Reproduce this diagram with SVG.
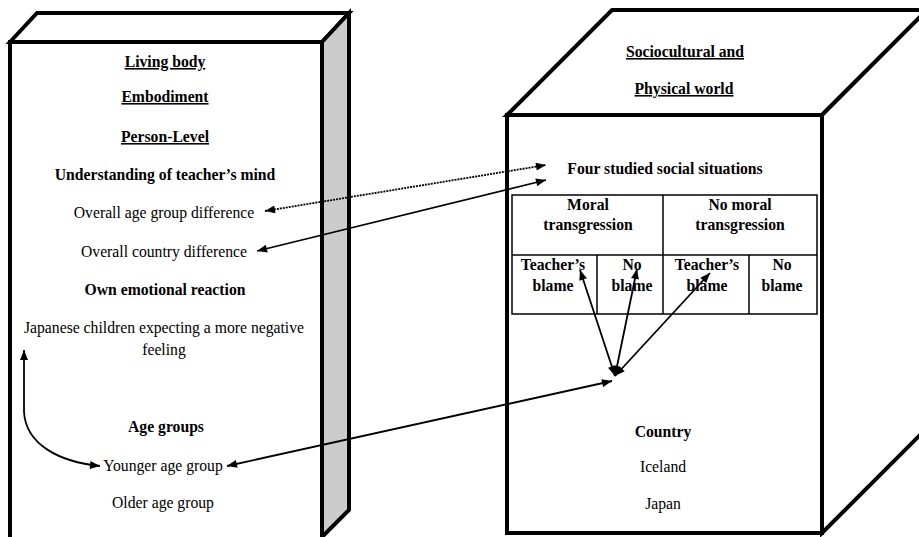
<svg xmlns="http://www.w3.org/2000/svg" width="919" height="537" viewBox="0 0 919 537">
<style>
text{font-family:"Liberation Serif","Times New Roman",serif;font-size:15.7px;fill:#000;text-anchor:middle}
.b{font-weight:bold}
.u{font-weight:bold;text-decoration:underline}
.box{stroke:#000;stroke-width:4;stroke-linejoin:miter}
.tbl{fill:none;stroke:#000;stroke-width:1.5}
.c{fill:none;stroke:#000;stroke-width:1.8;marker-start:url(#ah);marker-end:url(#ah)}
.dot{stroke-dasharray:2,1}
</style>
<defs>
<marker id="ah" viewBox="0 0 10 8" refX="10" refY="4" markerWidth="11" markerHeight="8" markerUnits="userSpaceOnUse" orient="auto-start-reverse">
<path d="M0,0 L10,4 L0,8 z" fill="#000"/>
</marker>
</defs>
<rect width="919" height="537" fill="#fff"/>
<g id="living-body">
<rect class="box" x="10" y="42" width="312" height="510" fill="#fff"/>
<polygon class="box" points="10,42 37,13 349,13 322,42" fill="#fff"/>
<polygon class="box" points="322,42 349,13 349,510 322,537" fill="#cccccc"/>
<text class="u" x="165" y="67">Living body</text>
<text class="u" x="165" y="102">Embodiment</text>
<text class="u" x="165" y="142">Person-Level</text>
<text class="b" x="165" y="180">Understanding of teacher’s mind</text>
<text x="164" y="218">Overall age group difference</text>
<text x="164" y="257">Overall country difference</text>
<text class="b" x="165" y="295">Own emotional reaction</text>
<text x="164" y="333">Japanese children expecting a more negative</text>
<text x="164" y="355">feeling</text>
<text class="b" x="166" y="432">Age groups</text>
<text x="163" y="471">Younger age group</text>
<text x="163" y="508">Older age group</text>
</g>
<g id="sociocultural-world">
<rect class="box" x="507" y="115" width="315" height="418" fill="#fff"/>
<polygon class="box" points="507,115 612,10 927,10 822,115" fill="#fff"/>
<polygon class="box" points="822,115 927,10 927,428 822,533" fill="#fff"/>
<text class="u" x="685" y="57">Sociocultural and</text>
<text class="u" x="684" y="94">Physical world</text>
<text class="b" x="665" y="174">Four studied social situations</text>
<text class="b" x="663" y="437">Country</text>
<text x="663" y="472">Iceland</text>
<text x="663" y="509">Japan</text>
</g>
<g id="situations-table">
<rect class="tbl" x="512" y="195" width="305" height="119"/>
<line class="tbl" x1="663" y1="195" x2="663" y2="314"/>
<line class="tbl" x1="512" y1="255" x2="817" y2="255"/>
<line class="tbl" x1="597" y1="255" x2="597" y2="314"/>
<line class="tbl" x1="749" y1="255" x2="749" y2="314"/>
<text class="b" x="588" y="210">Moral</text>
<text class="b" x="588" y="230">transgression</text>
<text class="b" x="740" y="210">No moral</text>
<text class="b" x="740" y="230">transgression</text>
<text class="b" x="553" y="270">Teacher’s</text>
<text class="b" x="553" y="291">blame</text>
<text class="b" x="632" y="270">No</text>
<text class="b" x="632" y="291">blame</text>
<text class="b" x="707" y="270">Teacher’s</text>
<text class="b" x="707" y="291">blame</text>
<text class="b" x="782" y="270">No</text>
<text class="b" x="782" y="291">blame</text>
</g>
<g id="connectors">
<line class="c dot" x1="265" y1="211" x2="546" y2="165"/>
<line class="c" x1="257" y1="251" x2="546" y2="180"/>
<path class="c" d="M24,350 L24,412 C26,445 60,462 100,466"/>
<line class="c" x1="227" y1="466" x2="612" y2="381"/>
<line class="c" x1="615" y1="376" x2="580" y2="270"/>
<line class="c" x1="615" y1="376" x2="637" y2="269"/>
<line class="c" x1="615" y1="376" x2="710" y2="273"/>
</g>
</svg>
